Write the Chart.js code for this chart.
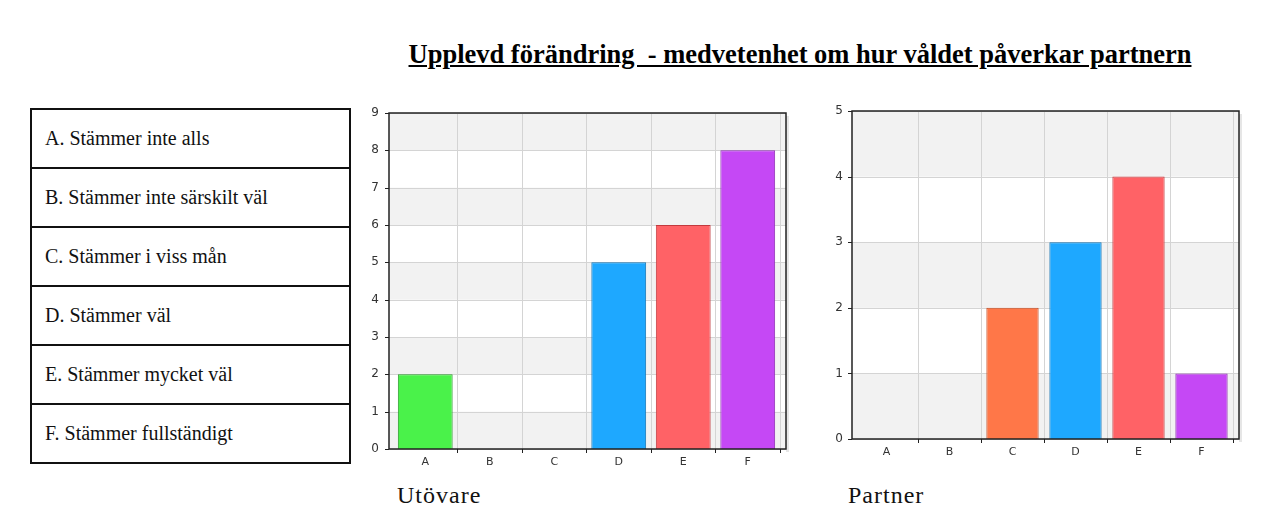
<!DOCTYPE html>
<html lang="sv">
<head>
<meta charset="UTF-8">
<script src="https://cdn.jsdelivr.net/npm/chart.js@4.4.1/dist/chart.umd.min.js"></script>
<title>Upplevd förändring</title>
<style>
  body { margin: 0; background: #fff; width: 1271px; height: 521px; position: relative; overflow: hidden; }
  #title { position: absolute; left: 0; width: 1600px; top: 39px; text-align: center;
           font: bold 26.5px "Liberation Serif", serif; text-decoration: underline; white-space: pre; color: #000; }
  table { position: absolute; left: 30px; top: 108px; border-collapse: collapse; width: 321px; }
  td { border: 2px solid #111; height: 57px; padding: 0 0 0 13px; font: 20px "Liberation Serif", serif; color: #111; }
  .lab { position: absolute; top: 482px; font: 24px "Liberation Serif", serif; letter-spacing: 1px; color: #111; }
  .box { position: absolute; }
</style>
</head>
<body>
<div id="title">Upplevd förändring  - medvetenhet om hur våldet påverkar partnern</div>
<table id="legend"></table>
<div class="box" style="left:360px;top:100px;width:440px;height:370px"><canvas id="left"></canvas></div>
<div class="box" style="left:820px;top:100px;width:430px;height:370px"><canvas id="right"></canvas></div>
<div class="lab" style="left:397px">Utövare</div>
<div class="lab" style="left:848px">Partner</div>
<script>
const categories = ['A', 'B', 'C', 'D', 'E', 'F'];
const answers = ['A. Stämmer inte alls', 'B. Stämmer inte särskilt väl', 'C. Stämmer i viss mån',
                 'D. Stämmer väl', 'E. Stämmer mycket väl', 'F. Stämmer fullständigt'];
const utovare = [2, 0, 0, 5, 6, 8];
const partner = [0, 0, 2, 3, 4, 1];
const fills = ['#4af24a', '#ffd84a', '#ff7748', '#1ea8ff', '#ff6266', '#c548f5'];
const strokes = ['#2b9a2b', '#b09020', '#c04a22', '#1273b3', '#c23a3e', '#8b2cb0'];

const tbl = document.getElementById('legend');
answers.forEach(a => {
  const tr = document.createElement('tr');
  const td = document.createElement('td');
  td.textContent = a;
  tr.appendChild(td);
  tbl.appendChild(tr);
});

// plot frame is a few px wider than the category range, like the original
const frame = {
  id: 'frame',
  beforeDraw(chart, args, o) {
    const { ctx, chartArea: a, scales: { y } } = chart;
    const l = a.left - o.l, r = a.right + o.r;
    ctx.save();
    // soft shadow on the right
    ctx.fillStyle = '#e6e6e6';
    ctx.fillRect(r, a.top + 3, 3, a.bottom - a.top);
    ctx.fillStyle = '#f2f2f2';
    for (let v = 0; v < y.max; v += 2) {
      const top = y.getPixelForValue(Math.min(v + 1, y.max));
      const bot = y.getPixelForValue(v);
      ctx.fillRect(l, top, r - l, bot - top);
    }
    ctx.strokeStyle = '#d4d4d4';
    ctx.lineWidth = 1;
    y.ticks.forEach(t => {
      const py = Math.round(y.getPixelForValue(t.value)) + 0.5;
      ctx.beginPath(); ctx.moveTo(l, py); ctx.lineTo(r, py); ctx.stroke();
    });
    ctx.restore();
  },
  afterDraw(chart, args, o) {
    const { ctx, chartArea: a, scales: { y } } = chart;
    const l = a.left - o.l, r = a.right + o.r;
    ctx.save();
    ctx.strokeStyle = '#222';
    ctx.lineWidth = 1.5;
    ctx.strokeRect(l, a.top, r - l, a.bottom - a.top);
    ctx.lineWidth = 1;
    y.ticks.forEach(t => {
      const py = Math.round(y.getPixelForValue(t.value)) + 0.5;
      ctx.beginPath(); ctx.moveTo(l - 4, py); ctx.lineTo(l, py); ctx.stroke();
    });
    ctx.restore();
  }
};

function makeChart(id, values, yMax, yWidth, yGap, xHeight, pad, frameOff, barPct) {
  return new Chart(document.getElementById(id), {
    type: 'bar',
    data: {
      labels: categories,
      datasets: [{
        data: values,
        backgroundColor: fills,
        borderColor: strokes,
        borderWidth: 1,
        barPercentage: barPct,
        categoryPercentage: 1
      }]
    },
    options: {
      responsive: true,
      maintainAspectRatio: false,
      animation: false,
      layout: { padding: pad },
      plugins: { legend: { display: false }, tooltip: { enabled: false }, frame: frameOff },
      scales: {
        x: {
          grid: {
            offset: true, tickLength: 4,
            color: c => (c.index === 0 || c.index === categories.length) ? 'rgba(0,0,0,0)' : '#d4d4d4',
            tickColor: c => (c.index === 0 || c.index === categories.length) ? 'rgba(0,0,0,0)' : '#222'
          },
          border: { display: false },
          ticks: { color: '#333', font: { family: 'DejaVu Sans', size: 11 }, padding: 3 },
          afterFit: s => { s.height = xHeight; }
        },
        y: {
          min: 0, max: yMax,
          // grid hidden (drawn by the frame plugin); tickLength only spaces the labels
          grid: { display: false, drawTicks: true, tickLength: yGap },
          border: { display: false },
          ticks: { stepSize: 1, color: '#333', font: { family: 'DejaVu Sans', size: 12 }, padding: 2 },
          afterFit: s => { s.width = yWidth; }
        }
      }
    },
    plugins: [frame]
  });
}

makeChart('left', utovare, 9, 33, 12, 21, { top: 13, right: 20, bottom: 0, left: 0 }, { l: 4, r: 6 }, 0.85);
makeChart('right', partner, 5, 35, 10, 28, { top: 11, right: 17, bottom: 3, left: 0 }, { l: 3, r: 6 }, 0.83);
</script>
</body>
</html>
